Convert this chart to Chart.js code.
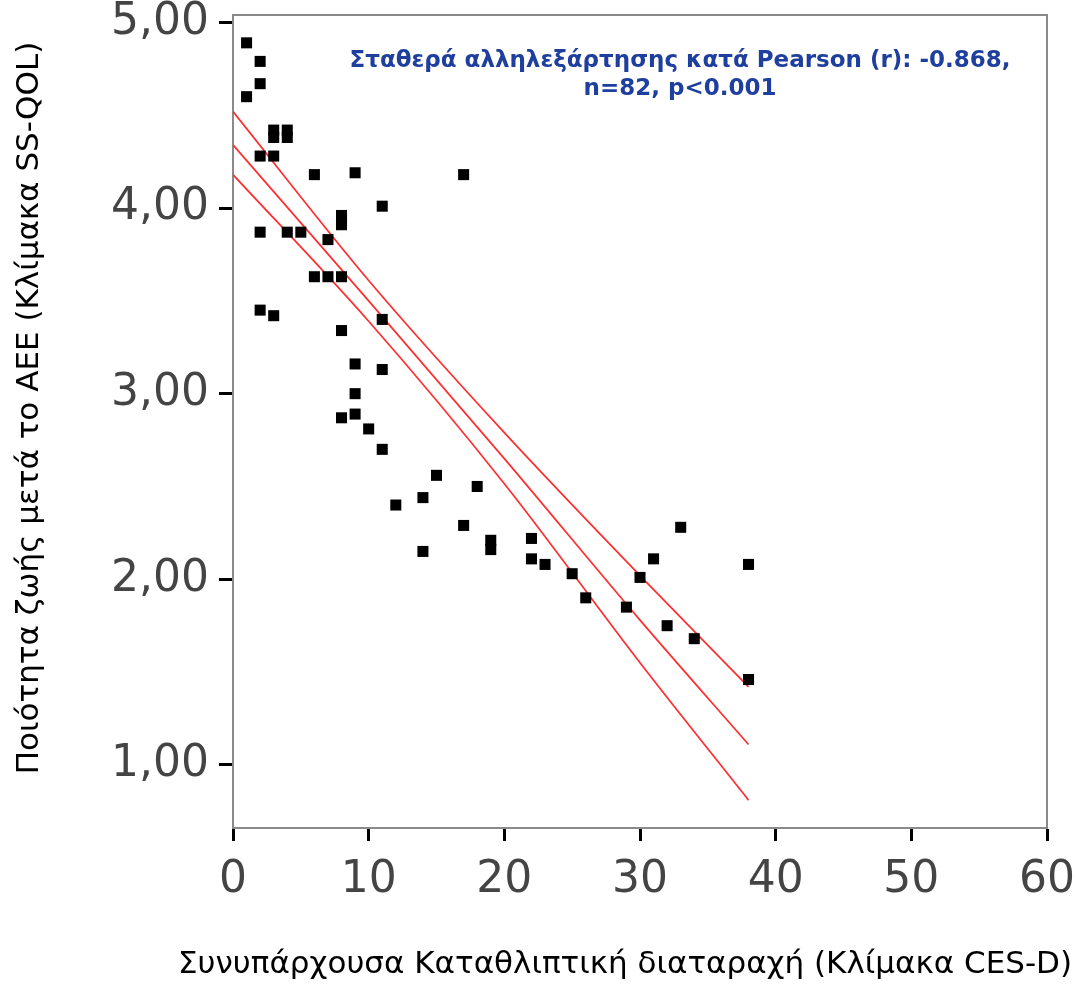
<!DOCTYPE html>
<html>
<head>
<meta charset="utf-8">
<script src="https://cdn.jsdelivr.net/npm/chart.js@4.4.1/dist/chart.umd.min.js"></script>
<style>
html, body { margin: 0; padding: 0; background: #fff; }
</style>
</head>
<body>
<canvas id="myChart" width="1079" height="985"></canvas>
<script>
// scatter points: CES-D score vs SS-QOL score
var depX = [1, 2, 2, 1, 3, 3, 4, 4, 2, 3, 6, 9, 11, 8, 8, 2, 4, 5, 7, 6, 7, 8, 2, 3, 11, 8, 9, 11, 9, 8, 9, 10, 11,
            17, 15, 18, 14, 12, 17, 19, 19, 14, 22, 22, 23, 25, 26, 33, 31, 38, 30, 29, 32, 34, 38];
var qolY = [4.89, 4.79, 4.67, 4.60, 4.42, 4.38, 4.42, 4.38, 4.28, 4.28, 4.18, 4.19, 4.01, 3.96, 3.91, 3.87, 3.87, 3.87, 3.83,
            3.63, 3.63, 3.63, 3.45, 3.42, 3.40, 3.34, 3.16, 3.13, 3.00, 2.87, 2.89, 2.81, 2.70,
            4.18, 2.56, 2.50, 2.44, 2.40, 2.29, 2.21, 2.16, 2.15, 2.22, 2.11, 2.08, 2.03, 1.90,
            2.28, 2.11, 2.08, 2.01, 1.85, 1.75, 1.68, 1.46];

// fit line and confidence band
var lineX  = [0, 10, 20, 30, 38];
var upperY = [4.52, 3.61, 2.79, 2.02, 1.42];
var fitY   = [4.34, 3.50, 2.65, 1.78, 1.11];
var lowerY = [4.18, 3.39, 2.515, 1.55, 0.81];

var xTicks = [0, 10, 20, 30, 40, 50, 60];
var yTicks = [1, 2, 3, 4, 5];

var xTitle = 'Συνυπάρχουσα Καταθλιπτική διαταραχή (Κλίμακα CES-D)';
var yTitle = 'Ποιότητα ζωής μετά το ΑΕΕ (Κλίμακα SS-QOL)';
var noteLines = ['Σταθερά αλληλεξάρτησης κατά Pearson (r): -0.868,', 'n=82, p<0.001'];

function pts(xs, ys) {
    return xs.map(function (x, i) { return { x: x, y: ys[i] }; });
}

function bandLine(ys) {
    return {
        data: pts(lineX, ys),
        showLine: true,
        borderColor: 'rgb(255, 45, 45)',
        borderWidth: 1.7,
        pointRadius: 0,
        fill: false,
        cubicInterpolationMode: 'monotone'
    };
}

// gray frame, axis titles and the blue note
// (axis titles drawn here because Chart.js squeezes the x title to the plot width)
var framePlugin = {
    id: 'frame',
    beforeDatasetsDraw: function (chart) {
        var a = chart.chartArea, c = chart.ctx;
        c.save();
        c.strokeStyle = '#8a8a8a';
        c.lineWidth = 2;
        c.strokeRect(a.left, a.top, a.right - a.left, a.bottom - a.top);
        c.restore();
    },
    afterDraw: function (chart) {
        var a = chart.chartArea, c = chart.ctx;
        c.save();
        c.fillStyle = '#000';
        c.font = '31px "DejaVu Sans"';
        c.textAlign = 'center';
        c.textBaseline = 'middle';
        c.fillText(xTitle, a.left + 392, a.bottom + 137);
        c.translate(30, a.top + 393);
        c.rotate(-Math.PI / 2);
        c.fillText(yTitle, 0, 0);
        c.restore();

        c.save();
        c.font = 'bold 23px "DejaVu Sans"';
        c.fillStyle = '#1f3f9e';
        c.textAlign = 'center';
        c.textBaseline = 'middle';
        c.fillText(noteLines[0], a.left + 447, a.top + 46);
        c.fillText(noteLines[1], a.left + 447, a.top + 74);
        c.restore();
    }
};

var tickFont = { family: 'DejaVu Sans', size: 44 };

var ctx = document.getElementById('myChart').getContext('2d');
var myChart = new Chart(ctx, {
    type: 'scatter',
    data: {
        datasets: [
            {
                data: pts(depX, qolY),
                pointStyle: 'rect',
                pointRadius: 7.8,
                backgroundColor: '#000',
                borderWidth: 0
            },
            bandLine(upperY),
            bandLine(fitY),
            bandLine(lowerY)
        ]
    },
    options: {
        responsive: false,
        animation: false,
        layout: { padding: { top: 15, right: 32, left: 0, bottom: 0 } },
        plugins: { legend: { display: false }, tooltip: { enabled: false } },
        scales: {
            x: {
                type: 'linear',
                min: 0,
                max: 60,
                afterBuildTicks: function (s) { s.ticks = xTicks.map(function (v) { return { value: v }; }); },
                afterFit: function (s) { s.height = 157; s.paddingLeft = 0; s.paddingRight = 0; },
                ticks: { font: tickFont, color: '#444', padding: 13, maxRotation: 0 },
                grid: { drawOnChartArea: false, drawTicks: true, tickLength: 13, tickWidth: 3, tickColor: '#000' },
                border: { display: true, color: '#8a8a8a', width: 2 },
                title: { display: false }
            },
            y: {
                type: 'linear',
                min: 0.66,
                max: 5.04,
                afterBuildTicks: function (s) { s.ticks = yTicks.map(function (v) { return { value: v }; }); },
                afterFit: function (s) { s.width = 233; s.paddingTop = 0; s.paddingBottom = 0; },
                ticks: {
                    font: tickFont,
                    color: '#444',
                    padding: 10,
                    callback: function (v) { return v.toFixed(2).replace('.', ','); }
                },
                grid: { drawOnChartArea: false, drawTicks: true, tickLength: 14, tickWidth: 3, tickColor: '#000' },
                border: { display: true, color: '#8a8a8a', width: 2 },
                title: { display: false }
            }
        }
    },
    plugins: [framePlugin]
});
</script>
</body>
</html>
